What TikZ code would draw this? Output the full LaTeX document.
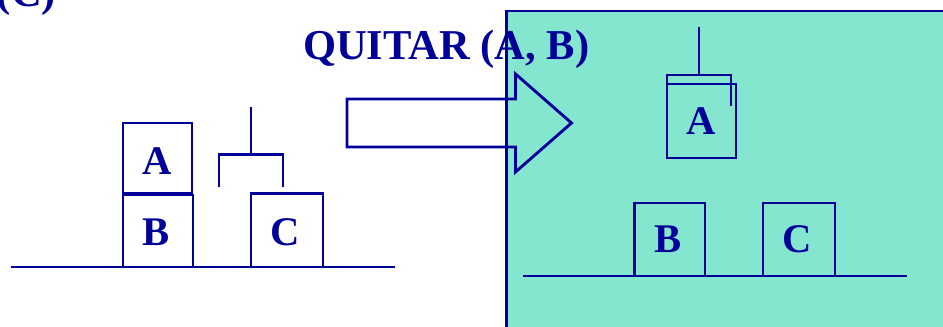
\documentclass[tikz,border=0pt]{standalone}
\usepackage{fontspec}
\setmainfont{Liberation Serif}
\definecolor{ink}{HTML}{000099}
\definecolor{panel}{HTML}{84E6CE}
\tikzset{
  ln/.style={draw=ink,line width=2.15pt,line join=miter},
  lab/.style={text=ink,font=\fontsize{30.5pt}{32pt}\selectfont\bfseries,anchor=base,inner sep=0pt,outer sep=0pt},
  title/.style={text=ink,font=\fontsize{31.9pt}{33pt}\selectfont\bfseries,anchor=base west,inner sep=0pt,outer sep=0pt}
}
\begin{document}
\begin{tikzpicture}[x=0.75pt,y=-0.75pt]
\useasboundingbox (0,0) rectangle (943,327);
\clip (0,0) rectangle (943,327);
\fill[white] (0,0) rectangle (943,327);
% caption cut off at the top, as in the reference
\node[title] (cap) at (-3,6.5) {(C)};
% right panel
\fill[panel] (506.5,11) rectangle (960,340);
\node[title] (title) at (303,59.3) {QUITAR (A, B)};
\draw[ln] (960,11) -- (506.5,11) -- (506.5,340);
% arrow
\draw[ln] (347,99) -- (515.5,99) -- (515.5,74) -- (571.5,123) -- (515.5,172) -- (515.5,147) -- (347,147) -- cycle;
% left scene
\draw[ln] (123,123) rectangle (192,193);
\draw[ln] (123,195) rectangle (193,267);
\draw[ln,line width=3pt] (123,194) -- (193,194);
\draw[ln] (251,193.5) rectangle (323,267);
\draw[ln] (11,267) -- (395,267);
\draw[ln] (251,107) -- (251,154.5);
\draw[ln] (219,187) -- (219,154.5) -- (283,154.5) -- (283,187);
\node[lab] (la) at (157.5,174.5) {A};
\node[lab] (lb) at (156.5,245.5) {B};
\node[lab] (lc) at (285.5,245.5) {C};
% right scene
\draw[ln] (667,84) rectangle (736,158);
\draw[ln] (634.5,203) rectangle (705,276);
\draw[ln] (763,203) rectangle (835,276);
\draw[ln] (523,276) -- (907,276);
\draw[ln] (699,27) -- (699,75);
\draw[ln] (667,106) -- (667,75) -- (731,75) -- (731,106.5);
\node[lab] (ra) at (701.5,134.5) {A};
\node[lab] (rb) at (668,253) {B};
\node[lab] (rc) at (797,253) {C};
\end{tikzpicture}
\end{document}
